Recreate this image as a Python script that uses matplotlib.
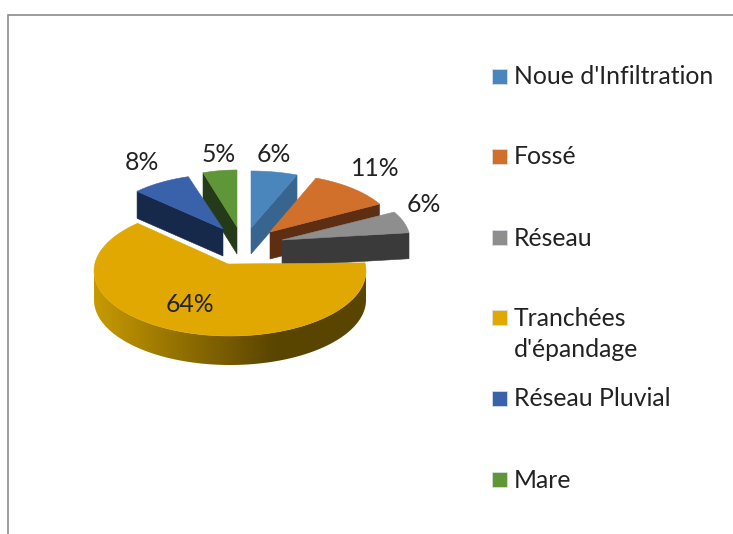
import numpy as np
import matplotlib
matplotlib.use("Agg")
import matplotlib.pyplot as plt
from matplotlib.patches import Polygon, Rectangle
from matplotlib.colors import LinearSegmentedColormap

# data
categories = ["Noue d'Infiltration", "Fossé", "Réseau", "Tranchées\nd'épandage", "Réseau Pluvial", "Mare"]
values = [6, 11, 6, 64, 8, 5]
value_labels = ["6%", "11%", "6%", "64%", "8%", "5%"]

# styles / layout (pixel space)
top_colors = ["#4A86BB", "#D0702A", "#8E8E8E", "#E0A800", "#3A62AA", "#5F9638"]
wall_colors = ["#386590", "#5E2E12", "#3A3A3A", "#E0A800", "#17294A", "#253A18"]
apex = [(251, 228), (270, 232), (282, 240), (228, 264), (223, 229), (237, 227)]
centre = [(251, 228), (270, 232), (282, 240), (230, 271), (226, 229), (237, 227)]
rx = [125, 125, 128, 136, 122, 110]
ry = [57, 58, 58, 65, 55, 57]
depth = [26, 27, 26, 29, 27, 27]
end_skew_deg = [0, 0, 0, 4, 0, 0]  # perspective correction of the slice's far corner
label_pos = [(274, 154), (375, 169), (424, 205), (190, 304), (142, 162), (219, 154)]
legend_y = [76, 156, 237, 317, 398, 479]
FONT = "Lato"
FS = 17.8

W, H = 733, 534
fig = plt.figure(figsize=(W / 100, H / 100), dpi=100)
ax = fig.add_axes([0, 0, 1, 1])
ax.set_axis_off()

# chart frame
ax.plot([8, 8, W], [H, 15, 15], color="#8A8A8A", lw=1.2, solid_joinstyle="miter")

fractions = np.array(values, dtype=float) / sum(values)
edges = np.concatenate([[0], np.cumsum(fractions)]) * 2 * np.pi


def arc(i, n=80):
    t = np.linspace(edges[i], edges[i + 1] + np.radians(end_skew_deg[i]), n)
    return np.column_stack([centre[i][0] + rx[i] * np.sin(t), centre[i][1] - ry[i] * np.cos(t)])


def shifted(pts, d):
    return np.asarray(pts, dtype=float) + np.array([0, d])


def cut_face(p, q, d):
    return np.array([p, q, (q[0], q[1] + d), (p[0], p[1] + d)], dtype=float)


def draw_top(i):
    ax.add_patch(Polygon(np.vstack([[apex[i]], arc(i)]), closed=True, fc=top_colors[i],
                         ec=top_colors[i], lw=0.4, zorder=z[i] + 0.2))


def draw_wall(i, which):
    a = arc(i)
    end = a[-1] if which == "end" else a[0]
    ax.add_patch(Polygon(cut_face(apex[i], end, depth[i]), closed=True, fc=wall_colors[i],
                         ec=wall_colors[i], lw=0.4, zorder=z[i] + 0.1))


# painter's order: back slices first, large front slice last
z = [2, 4, 5, 6, 3, 1]
draw_wall(0, "end")
draw_wall(1, "end")
draw_wall(2, "end")
draw_wall(5, "start")
draw_wall(4, "start")
for i in range(6):
    draw_top(i)

# outer wall of the big slice has a horizontal gradient
big = 3
a = arc(big, 300)
front = a[a[:, 1] >= centre[big][1]]
wall_poly = np.vstack([front, shifted(front, depth[big])[::-1]])
cmap = LinearSegmentedColormap.from_list("gold", ["#C89A00", "#8F6E00", "#5A4500", "#5A4500"])
grad = np.linspace(0, 1, 256).reshape(1, -1)
x0, x1 = centre[big][0] - rx[big], centre[big][0] + rx[big]
im = ax.imshow(grad, cmap=cmap, aspect="auto", zorder=z[big] + 0.1,
               extent=(x0, x1, centre[big][1] + ry[big] + depth[big] + 2, centre[big][1] - 2))
clip = Polygon(wall_poly, closed=True, transform=ax.transData, fc="none", ec="none")
ax.add_patch(clip)
im.set_clip_path(clip)

# data labels
for (x, y), s in zip(label_pos, value_labels):
    ax.text(x, y, s, ha="center", va="center", fontsize=FS, family=FONT, color="#222222", zorder=10)

# legend
for y, c, s in zip(legend_y, top_colors, categories):
    ax.add_patch(Rectangle((492, y - 7), 15, 15, fc=c, ec="#DDE4EC", lw=0.5, zorder=10))
    ax.text(514, y - 10.5, s, ha="left", va="top", fontsize=FS, family=FONT, color="#222222",
            linespacing=1.45, zorder=10)

ax.set_xlim(0, W)
ax.set_ylim(H, 0)
fig.savefig("out.png", dpi=100, facecolor="white")
